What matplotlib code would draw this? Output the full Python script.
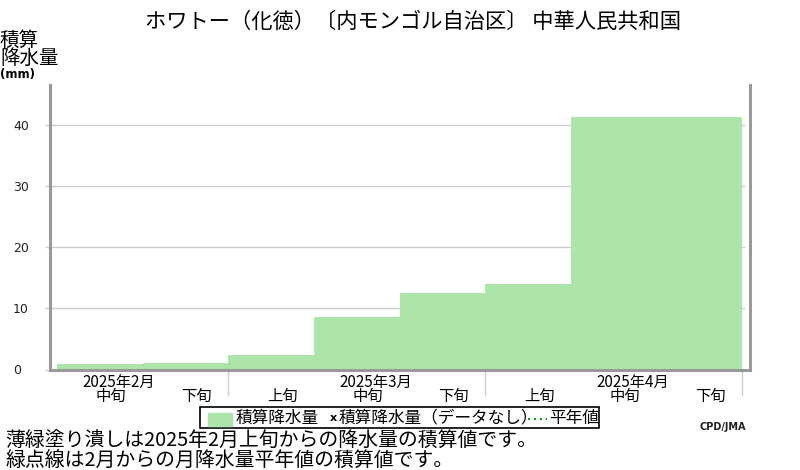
import matplotlib
matplotlib.use('Agg')
import matplotlib.pyplot as plt
import numpy as np
from matplotlib.patches import Rectangle
from matplotlib.lines import Line2D

plt.rcParams['font.family'] = ['Noto Sans CJK JP', 'DejaVu Sans']

title = "ホワトー（化徳）〔内モンゴル自治区〕 中華人民共和国"
dekad_labels = ["中旬", "下旬", "上旬", "中旬", "下旬", "上旬", "中旬", "下旬"]
month_labels = ["2025年2月", "2025年3月", "2025年4月"]
month_mid = [0, 3, 6]      # dekad index under each month label
month_edges = [2, 5, 8]    # month boundaries in dekad units
precip = [0.9, 1.1, 2.4, 8.6, 12.5, 14.0, 41.3, 41.3]
yticks = [0, 10, 20, 30, 40]
legend_labels = ["積算降水量", "積算降水量（データなし）", "平年値"]
notes = ["薄緑塗り潰しは2025年2月上旬からの降水量の積算値です。",
         "緑点線は2月からの月降水量平年値の積算値です。"]

W, H = 800, 470
fill = '#ade4aa'
frame = '#999999'
light = '#cccccc'


def fx(px):
    return px / W


def fy(py):
    return 1 - py / H


fig = plt.figure(figsize=(8, 4.7), dpi=100)
ax_h = 369.5 - 85.5
ax = fig.add_axes([fx(50), fy(369.5), 700 / W, ax_h / H])

x = np.arange(len(precip))
ax.bar(x, precip, width=1, align='edge', color=fill, linewidth=0, zorder=2)
ax.set_xlim(-0.082, 8.093)
ax.set_ylim(0, 46.5)

ax.spines['top'].set_visible(False)
for s in ['left', 'bottom', 'right']:
    ax.spines[s].set_color(frame)
    ax.spines[s].set_linewidth(2.2)

# grid lines (reach a little left of the frame, stop short of the right one)
ax.hlines(yticks, -5 / 700, 695 / 700, transform=ax.get_yaxis_transform(),
          color=light, lw=1, zorder=1, clip_on=False)
ax.set_yticks(yticks)
ax.set_yticklabels([str(v) for v in yticks], ha='left', fontsize=9,
                   family='DejaVu Sans', color='#222222')
ax.tick_params(axis='y', length=0, pad=26.6)
ax.set_xticks([])

xt = ax.get_xaxis_transform()
for e in month_edges:
    ax.plot([e, e], [0, -25 / ax_h], transform=xt, color=light, lw=1, clip_on=False)
for i, lab in enumerate(dekad_labels):
    ax.text(x[i] + 0.63, -26.5 / ax_h, lab, transform=xt, ha='center', va='center',
            fontsize=11)
for m, lab in zip(month_mid, month_labels):
    ax.text(m + 0.72, -13 / ax_h, lab, transform=xt, ha='center', va='center',
            fontsize=11)

fig.text(fx(413), fy(22), title, ha='center', va='center', fontsize=15.3)

fig.text(fx(0), fy(40), "積算", ha='left', va='center', fontsize=14)
fig.text(fx(0), fy(58.5), "降水量", ha='left', va='center', fontsize=14)
fig.text(fx(0), fy(74.5), "(mm)", ha='left', va='center', fontsize=8.5,
         fontweight='bold', family='DejaVu Sans')

# legend box
fig.patches.append(Rectangle((fx(200), fy(428)), 399 / W, 21 / H, fill=False,
                             ec='black', lw=1.2, transform=fig.transFigure))
fig.patches.append(Rectangle((fx(208), fy(426)), 24 / W, 13 / H, color=fill,
                             transform=fig.transFigure))
fig.text(fx(236), fy(418), legend_labels[0], va='center', fontsize=12)
fig.text(fx(330), fy(418), "x", va='center', fontsize=8, fontweight='bold',
         family='DejaVu Sans')
fig.text(fx(339), fy(418), legend_labels[1], va='center', fontsize=12)
fig.lines.append(Line2D([fx(528), fx(547)], [fy(418.5), fy(418.5)], ls=':',
                        color='#229922', lw=1.6, transform=fig.transFigure))
fig.text(fx(549), fy(418), legend_labels[2], va='center', fontsize=12)

fig.text(fx(700), fy(427), "CPD/JMA", va='center', fontsize=7, fontweight='bold',
         family='DejaVu Sans', color='#222222')

fig.text(fx(5), fy(441), notes[0], va='center', fontsize=14.3)
fig.text(fx(5), fy(460), notes[1], va='center', fontsize=14.3)

fig.savefig('out.png', dpi=100)
